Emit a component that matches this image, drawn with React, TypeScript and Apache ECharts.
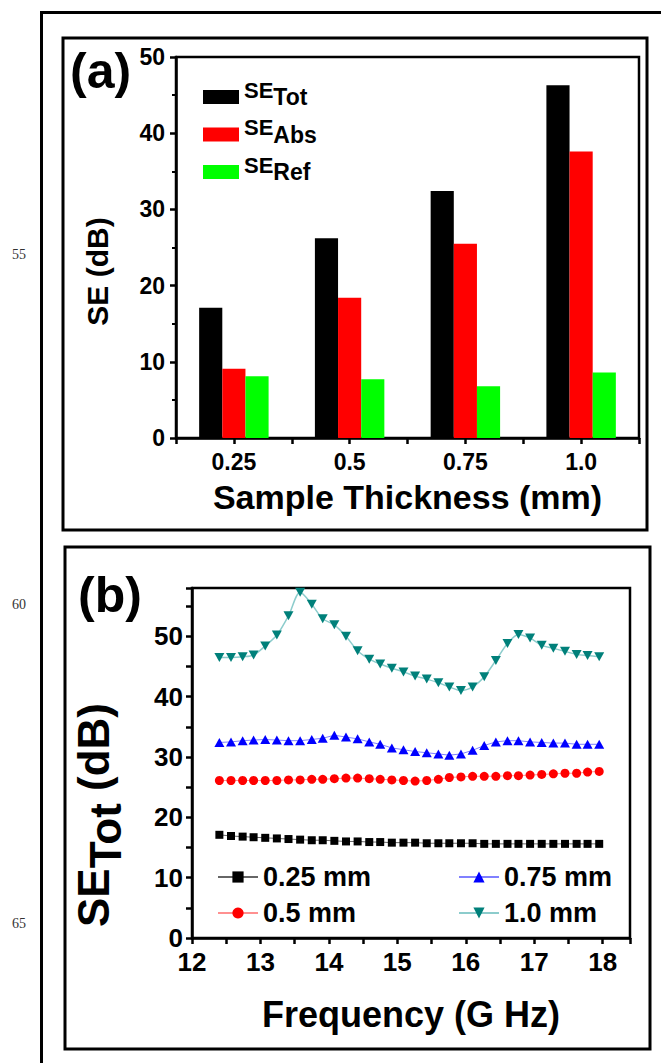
import React, { useEffect, useRef } from "react";
import * as echarts from "echarts";

// ---- Panel (a) data ----
const thickness = ["0.25", "0.5", "0.75", "1.0"];
const seTot = [17.1, 26.2, 32.4, 46.3];
const seAbs = [9.1, 18.4, 25.5, 37.6];
const seRef = [8.1, 7.7, 6.8, 8.6];

// ---- Panel (b) data ----
const freq = [
  12.40, 12.57, 12.74, 12.90, 13.07, 13.24, 13.41, 13.58, 13.75, 13.91,
  14.08, 14.25, 14.42, 14.59, 14.75, 14.92, 15.09, 15.26, 15.43, 15.60,
  15.76, 15.93, 16.10, 16.27, 16.44, 16.61, 16.77, 16.94, 17.11, 17.28,
  17.45, 17.62, 17.78, 17.95,
];
const se025 = [
  17.1, 16.9, 16.8, 16.7, 16.6, 16.5, 16.4, 16.3, 16.2, 16.2,
  16.1, 16.0, 16.0, 15.9, 15.9, 15.8, 15.8, 15.8, 15.7, 15.7,
  15.7, 15.7, 15.7, 15.6, 15.6, 15.6, 15.6, 15.6, 15.6, 15.6,
  15.6, 15.6, 15.6, 15.6,
];
const se05 = [
  26.1, 26.1, 26.1, 26.1, 26.1, 26.1, 26.2, 26.2, 26.3, 26.3,
  26.4, 26.5, 26.5, 26.4, 26.3, 26.2, 26.1, 26.0, 26.1, 26.3,
  26.6, 26.7, 26.8, 26.8, 26.8, 26.9, 26.9, 27.0, 27.1, 27.2,
  27.3, 27.3, 27.5, 27.6,
];
const se075 = [
  32.4, 32.5, 32.7, 32.8, 32.9, 32.8, 32.7, 32.7, 32.9, 33.1,
  33.6, 33.3, 33.0, 32.5, 32.1, 31.5, 31.2, 30.9, 30.7, 30.5,
  30.3, 30.5, 31.1, 31.9, 32.5, 32.7, 32.7, 32.5, 32.4, 32.3,
  32.3, 32.1, 32.1, 32.1,
];
const se10 = [
  46.5, 46.5, 46.6, 46.9, 48.4, 50.2, 53.4, 57.3, 55.3, 52.9,
  51.9, 50.0, 47.6, 46.2, 45.4, 44.7, 44.1, 43.4, 42.9, 42.3,
  41.6, 41.0, 41.6, 43.3, 46.0, 48.8, 50.3, 49.7, 48.5, 48.0,
  47.5, 47.0, 46.8, 46.6,
];
const freqTickLabels = ["12", "13", "14", "15", "16", "17", "18"];
const lineNumbers = ["55", "60", "65"];

const FONT = "Liberation Sans, Arial, sans-serif";
const DOWN_TRI = "path://M0,0 L10,0 L5,8.5 Z";

export default function App() {
  const ref = useRef<HTMLDivElement>(null);

  useEffect(() => {
    if (!ref.current) return;
    const chart = echarts.init(ref.current, undefined, { renderer: "svg" });

    const pts = (arr: number[]) => freq.map((f, i) => [f, arr[i]]);

    const legendRich = {
      s: { fontSize: 22, fontWeight: "bold", fontFamily: FONT, color: "#000", lineHeight: 24, verticalAlign: "top" },
      t: { fontSize: 23, fontWeight: "bold", fontFamily: FONT, color: "#000", lineHeight: 36 },
    };

    const option: any = {
      animation: false,
      backgroundColor: "#fff",
      textStyle: { fontFamily: FONT },
      grid: [
        { left: 176, top: 57, width: 463, height: 381, show: true, borderColor: "#000", borderWidth: 2.5, backgroundColor: "transparent" },
        { left: 192, top: 588, width: 438, height: 350, show: true, borderColor: "#000", borderWidth: 2.5, backgroundColor: "transparent" },
      ],
      legend: [
        {
          data: ["SE_Tot", "SE_Abs", "SE_Ref"],
          orient: "vertical",
          left: 198,
          top: 74,
          icon: "rect",
          itemWidth: 36,
          itemHeight: 14,
          itemGap: 8,
          formatter: (name: string) => `{s|SE}{t|${name.split("_")[1]}}`,
          textStyle: { rich: legendRich },
        },
        {
          data: ["0.25 mm", "0.5 mm"],
          orient: "vertical",
          left: 212,
          top: 857,
          itemWidth: 40,
          itemHeight: 14,
          itemGap: 6,
          textStyle: { fontSize: 27, fontWeight: "bold", fontFamily: FONT, color: "#000", lineHeight: 30 },
        },
        {
          data: ["0.75 mm", "1.0 mm"],
          orient: "vertical",
          left: 453,
          top: 857,
          itemWidth: 40,
          itemHeight: 14,
          itemGap: 6,
          textStyle: { fontSize: 27, fontWeight: "bold", fontFamily: FONT, color: "#000", lineHeight: 30 },
        },
      ],
      xAxis: [
        {
          type: "category",
          gridIndex: 0,
          data: thickness,
          position: "bottom",
          axisLine: { show: true, lineStyle: { color: "#000", width: 2.5 } },
          axisTick: { show: true, alignWithLabel: false, length: 6, lineStyle: { color: "#000", width: 2.5 } },
          axisLabel: { color: "#000", fontSize: 23, fontWeight: "bold", fontFamily: FONT, margin: 12 },
          splitLine: { show: false },
          name: "Sample Thickness (mm)",
          nameLocation: "middle",
          nameGap: 42,
          nameTextStyle: { color: "#000", fontSize: 34, fontWeight: "bold", fontFamily: FONT },
        },
        {
          type: "category",
          gridIndex: 0,
          data: thickness,
          position: "bottom",
          axisLine: { show: false },
          axisTick: { show: true, alignWithLabel: true, length: 6, lineStyle: { color: "#000", width: 2.5 } },
          axisLabel: { show: false },
          splitLine: { show: false },
        },
        {
          type: "value",
          gridIndex: 1,
          min: 12,
          max: 18.4,
          interval: 0.5,
          axisLine: { show: true, lineStyle: { color: "#000", width: 2.5 } },
          axisTick: { show: true, length: 6, lineStyle: { color: "#000", width: 2.5 } },
          axisLabel: {
            color: "#000",
            fontSize: 26,
            fontWeight: "bold",
            fontFamily: FONT,
            margin: 11,
            formatter: (v: number) => {
              const s = String(v);
              return freqTickLabels.includes(s) ? s : "";
            },
          },
          splitLine: { show: false },
          name: "Frequency (G Hz)",
          nameLocation: "middle",
          nameGap: 58,
          nameTextStyle: { color: "#000", fontSize: 36, fontWeight: "bold", fontFamily: FONT },
        },
      ],
      yAxis: [
        {
          type: "value",
          gridIndex: 0,
          min: 0,
          max: 50,
          interval: 10,
          axisLine: { show: true, lineStyle: { color: "#000", width: 2.5 } },
          axisTick: { show: true, length: 6, lineStyle: { color: "#000", width: 2.5 } },
          minorTick: { show: true, splitNumber: 2, length: 4, lineStyle: { color: "#000", width: 2 } },
          axisLabel: { color: "#000", fontSize: 23, fontWeight: "bold", fontFamily: FONT, margin: 11 },
          splitLine: { show: false },
          minorSplitLine: { show: false },
          name: "SE (dB)",
          nameLocation: "middle",
          nameRotate: 90,
          nameGap: 64,
          nameTextStyle: { color: "#000", fontSize: 30, fontWeight: "bold", fontFamily: FONT, padding: [0, 48, 0, 0] },
        },
        {
          type: "value",
          gridIndex: 1,
          min: 0,
          max: 58,
          interval: 5,
          axisLine: { show: true, lineStyle: { color: "#000", width: 2.5 } },
          axisTick: { show: true, length: 6, lineStyle: { color: "#000", width: 2.5 } },
          axisLabel: {
            color: "#000",
            fontSize: 26,
            fontWeight: "bold",
            fontFamily: FONT,
            margin: 9,
            formatter: (v: number) => (v % 10 === 0 ? String(v) : ""),
          },
          splitLine: { show: false },
          name: "{s|SE}{t|Tot}{s| (dB)}",
          nameLocation: "middle",
          nameRotate: 90,
          nameGap: 53,
          nameTextStyle: {
            color: "#000",
            padding: [0, 104, 0, 0],
            rich: {
              s: { fontSize: 44, fontWeight: "bold", fontFamily: FONT, color: "#000", lineHeight: 48, verticalAlign: "top" },
              t: { fontSize: 44, fontWeight: "bold", fontFamily: FONT, color: "#000", lineHeight: 68 },
            },
          },
        },
      ],
      series: [
        { name: "SE_Tot", type: "bar", xAxisIndex: 0, yAxisIndex: 0, data: seTot, barWidth: "20%", barGap: "0%", itemStyle: { color: "#000000" } },
        { name: "SE_Abs", type: "bar", xAxisIndex: 0, yAxisIndex: 0, data: seAbs, barWidth: "20%", barGap: "0%", itemStyle: { color: "#ff0000" } },
        { name: "SE_Ref", type: "bar", xAxisIndex: 0, yAxisIndex: 0, data: seRef, barWidth: "20%", barGap: "0%", itemStyle: { color: "#00ff00" } },
        {
          name: "0.25 mm", type: "line", xAxisIndex: 2, yAxisIndex: 1, data: pts(se025),
          symbol: "rect", symbolSize: 8, itemStyle: { color: "#000" },
          lineStyle: { color: "#666", width: 1 },
        },
        {
          name: "0.5 mm", type: "line", xAxisIndex: 2, yAxisIndex: 1, data: pts(se05),
          symbol: "circle", symbolSize: 9, itemStyle: { color: "#ff0000" },
          lineStyle: { color: "#ff9090", width: 1 },
        },
        {
          name: "0.75 mm", type: "line", xAxisIndex: 2, yAxisIndex: 1, data: pts(se075),
          symbol: "triangle", symbolSize: [10, 9], itemStyle: { color: "#0000ff" },
          lineStyle: { color: "#8080ff", width: 1 },
        },
        {
          name: "1.0 mm", type: "line", xAxisIndex: 2, yAxisIndex: 1, data: pts(se10),
          symbol: DOWN_TRI, symbolSize: [10, 9], itemStyle: { color: "#00807a" },
          smooth: 0.3,
          lineStyle: { color: "#8ccccc", width: 1.5 },
        },
      ],
      graphic: [
        { type: "polyline", shape: { points: [[41.5, 1063], [41.5, 12.5], [661, 12.5]] }, style: { stroke: "#000", lineWidth: 3, fill: null }, silent: true },
        { type: "rect", shape: { x: 63, y: 38, width: 584, height: 492 }, style: { stroke: "#000", lineWidth: 3, fill: null }, silent: true },
        { type: "rect", shape: { x: 65, y: 547, width: 585, height: 502 }, style: { stroke: "#000", lineWidth: 3, fill: null }, silent: true },
        { type: "text", left: 70, top: 46, style: { text: "(a)", font: `bold 50px ${FONT}`, fill: "#000" } },
        { type: "text", left: 78, top: 570, style: { text: "(b)", font: `bold 50px ${FONT}`, fill: "#000" } },
        { type: "text", left: 12, top: 247, style: { text: lineNumbers[0], font: "14px 'Liberation Serif', serif", fill: "#333" } },
        { type: "text", left: 12, top: 597, style: { text: lineNumbers[1], font: "14px 'Liberation Serif', serif", fill: "#333" } },
        { type: "text", left: 12, top: 916, style: { text: lineNumbers[2], font: "14px 'Liberation Serif', serif", fill: "#333" } },
      ],
    };

    chart.setOption(option);
    return () => chart.dispose();
  }, []);

  return (
    <div
      ref={ref}
      style={{ position: "absolute", left: 0, top: 0, width: 661, height: 1063, background: "#fff" }}
    />
  );
}
